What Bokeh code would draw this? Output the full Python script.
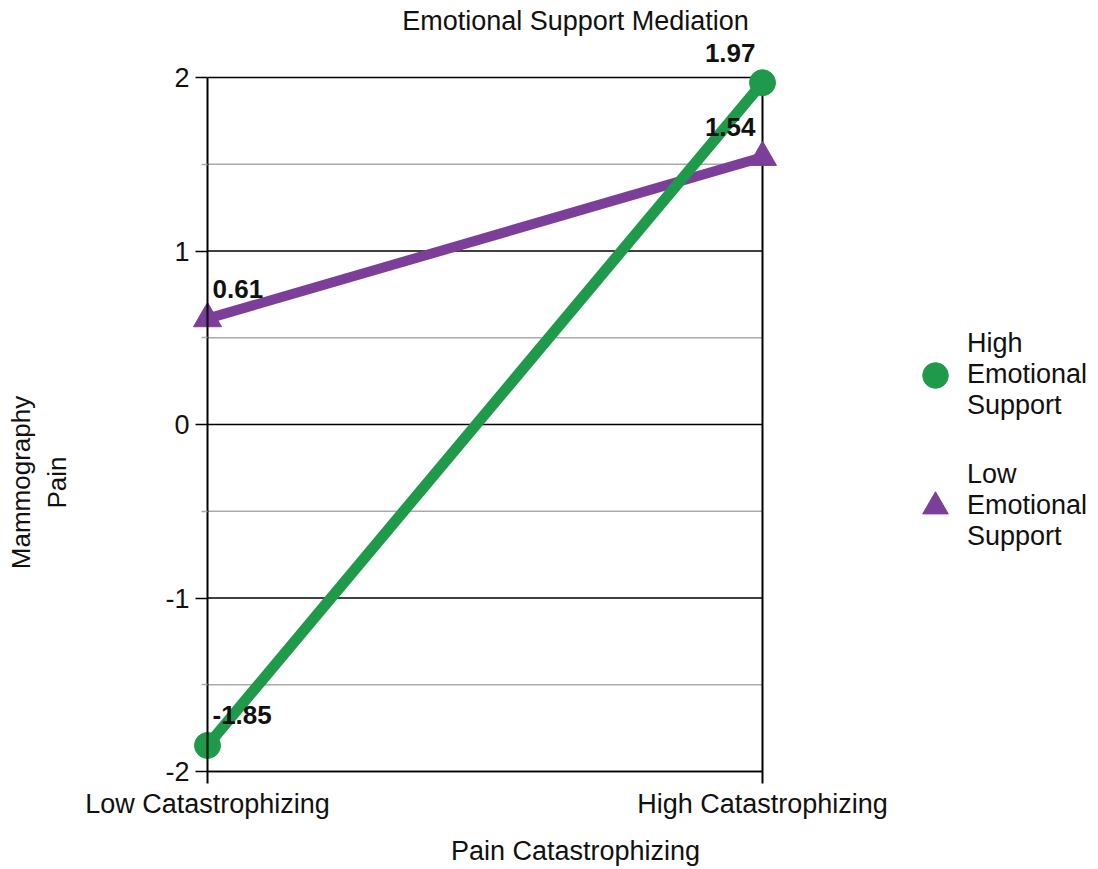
import math
from bokeh.plotting import figure
from bokeh.models import (ColumnDataSource, LinearAxis, FixedTicker, Range1d,
                          Legend, LegendItem, LabelSet, Label)
from bokeh.core.properties import value
from bokeh.embed import file_html
from bokeh.resources import INLINE

# ---------------- data ----------------
categories = ["Low Catastrophizing", "High Catastrophizing"]
high_support = [-1.85, 1.97]
low_support = [0.61, 1.54]
series_names = ["High\nEmotional\nSupport", "Low\nEmotional\nSupport"]
y_major_ticks = [-2, -1, 0, 1, 2]
y_minor_ticks = [-1.5, -0.5, 0.5, 1.5]
title_text = "Emotional Support Mediation"
x_title = "Pain Catastrophizing"
y_title = "Mammography\nPain"

# ---------------- styling / layout ----------------
FONT = "Liberation Sans"
GREEN = "#1f9a4b"
PURPLE = "#7b3f99"
MINOR_GRAY = "#aaaaaa"
TXT = "#111111"

W, H = 1096, 868
X0_PX, X1_PX = 207.0, 762.0      # pixel of first / last category
YTOP_PX, YBOT_PX = 77.0, 771.0   # pixel of max / min tick

xs = list(range(len(categories)))
ymin, ymax = min(y_major_ticks), max(y_major_ticks)
px_per_x = (X1_PX - X0_PX) / (xs[-1] - xs[0])
px_per_y = (YBOT_PX - YTOP_PX) / (ymax - ymin)


def dx(px):
    return xs[0] + (px - X0_PX) / px_per_x


def dy(py):
    return ymax - (py - YTOP_PX) / px_per_y


p = figure(width=W, height=H, output_backend="svg", toolbar_location=None,
           x_range=Range1d(dx(0), dx(W)), y_range=Range1d(dy(H), dy(0)),
           x_axis_type=None, y_axis_type=None,
           min_border_left=0, min_border_top=0, min_border_right=0, min_border_bottom=0)
p.outline_line_color = None
p.xgrid.visible = False
p.ygrid.visible = False
p.background_fill_color = "white"
p.border_fill_color = "white"

# grid lines spanning the category extent
major_src = ColumnDataSource(dict(x0=[xs[0]] * len(y_major_ticks), x1=[xs[-1]] * len(y_major_ticks),
                                  y=y_major_ticks))
minor_src = ColumnDataSource(dict(x0=[xs[0]] * len(y_minor_ticks), x1=[xs[-1]] * len(y_minor_ticks),
                                  y=y_minor_ticks))
p.segment(x0="x0", y0="y", x1="x1", y1="y", source=minor_src, line_color=MINOR_GRAY, line_width=1.5)
p.segment(x0="x0", y0="y", x1="x1", y1="y", source=major_src, line_color="black", line_width=1.5)
# right border at last category
p.segment(x0=[xs[-1]], y0=[ymin], x1=[xs[-1]], y1=[ymax], line_color="black", line_width=2)

# axes (fixed at the data extent)
yaxis = LinearAxis(fixed_location=xs[0], bounds=(ymin, ymax),
                   ticker=FixedTicker(ticks=y_major_ticks, minor_ticks=y_minor_ticks))
yaxis.major_label_overrides = {t: str(t) for t in y_major_ticks}
yaxis.axis_line_color = "black"
yaxis.axis_line_width = 2
yaxis.major_tick_out = 12
yaxis.major_tick_in = 0
yaxis.major_tick_line_width = 1.5
yaxis.minor_tick_out = 6
yaxis.minor_tick_in = 0
yaxis.minor_tick_line_color = MINOR_GRAY
yaxis.minor_tick_line_width = 1.5
yaxis.major_label_standoff = 6
yaxis.major_label_text_font = FONT
yaxis.major_label_text_font_size = "27px"
yaxis.major_label_text_color = TXT
p.add_layout(yaxis, "left")

xaxis = LinearAxis(fixed_location=ymin, bounds=(xs[0], xs[-1]),
                   ticker=FixedTicker(ticks=xs, minor_ticks=[]))
xaxis.major_label_overrides = {i: c for i, c in zip(xs, categories)}
xaxis.axis_line_color = "black"
xaxis.axis_line_width = 1.5
xaxis.major_tick_out = 12
xaxis.major_tick_in = 0
xaxis.major_tick_line_width = 2
xaxis.minor_tick_out = 0
xaxis.minor_tick_in = 0
xaxis.major_label_standoff = 5
xaxis.major_label_text_font = FONT
xaxis.major_label_text_font_size = "27px"
xaxis.major_label_text_color = TXT
p.add_layout(xaxis, "below")

# series
ll = p.line(xs, low_support, line_color=PURPLE, line_width=10)
ls = p.scatter(xs, low_support, marker="triangle", size=28, fill_color=PURPLE, line_color=PURPLE)
hl = p.line(xs, high_support, line_color=GREEN, line_width=11)
hs = p.scatter(xs, high_support, marker="circle", size=26, fill_color=GREEN, line_color=GREEN)

# data labels
vals = high_support + low_support
pos = xs + xs
txt = [f"{v:.2f}" for v in vals]
for edge, align, xo in ((xs[0], "left", 5), (xs[-1], "right", -7)):
    src = ColumnDataSource(dict(x=[x for x in pos if x == edge],
                                y=[v for x, v in zip(pos, vals) if x == edge],
                                t=[t for x, t in zip(pos, txt) if x == edge]))
    p.add_layout(LabelSet(x="x", y="y", text="t", source=src, x_offset=xo, y_offset=30,
                          text_align=align, text_baseline="middle",
                          text_font=value(FONT), text_font_size="26px",
                          text_font_style="bold", text_color=TXT))

# titles
p.add_layout(Label(x=dx(575), y=dy(20), text=title_text, text_align="center",
                   text_baseline="middle", text_font=FONT, text_font_size="27px", text_color=TXT))
p.add_layout(Label(x=dx(575), y=dy(850), text=x_title, text_align="center",
                   text_baseline="middle", text_font=FONT, text_font_size="27px", text_color=TXT))
p.add_layout(Label(x=dx(38), y=dy(482), text=y_title, text_align="center",
                   text_baseline="middle", angle=math.pi / 2,
                   text_font=FONT, text_font_size="26px", text_color=TXT))

# legend
legend = Legend(items=[LegendItem(label=series_names[0], renderers=[hs]),
                       LegendItem(label=series_names[1], renderers=[ls])],
                location=(903, H - 552), glyph_width=64, glyph_height=72, label_standoff=0,
                spacing=38, padding=0, margin=0, border_line_color=None,
                background_fill_alpha=0, label_text_font=FONT, label_text_font_size="27px",
                label_text_color=TXT, label_text_baseline="top")
p.add_layout(legend)

open("out.html", "w").write(file_html(p, INLINE))
